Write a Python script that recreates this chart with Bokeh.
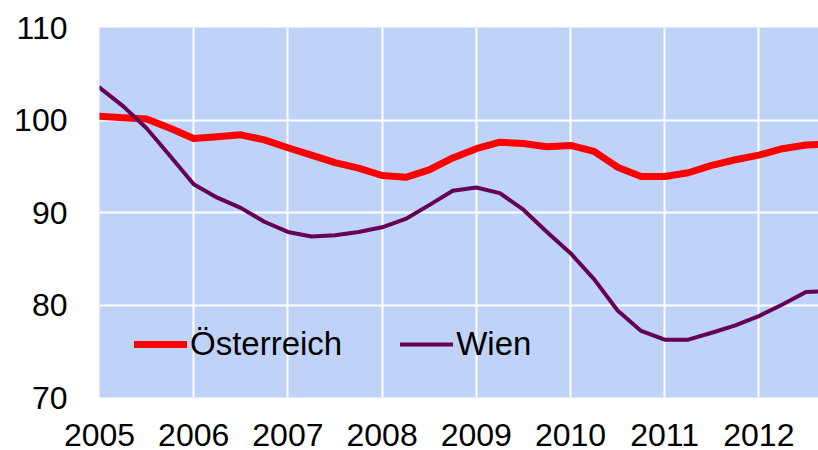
from bokeh.plotting import figure
from bokeh.models import FixedTicker, Legend, LegendItem, Range1d
from bokeh.embed import file_html
from bokeh.resources import INLINE

# Quarterly index values, starting 2005 Q1
start_year = 2005
quarters_per_year = 4
oesterreich = [100.4, 100.25, 100.1, 99.1, 98.0, 98.2, 98.4, 97.85, 97.0, 96.2,
               95.4, 94.8, 94.0, 93.8, 94.6, 95.9, 96.9, 97.6, 97.45, 97.1,
               97.25, 96.6, 94.9, 93.9, 93.9, 94.3, 95.1, 95.7, 96.2, 96.9,
               97.3, 97.4]
wien = [103.5, 101.5, 99.1, 96.1, 93.06, 91.6, 90.5, 89.0, 87.9, 87.4,
        87.55, 87.9, 88.4, 89.3, 90.8, 92.35, 92.7, 92.1, 90.3, 87.9,
        85.6, 82.8, 79.4, 77.2, 76.25, 76.25, 77.0, 77.8, 78.8, 80.05,
        81.4, 81.5]
years = [2005, 2006, 2007, 2008, 2009, 2010, 2011, 2012]
y_ticks = [70, 80, 90, 100, 110]
labels = ["Österreich", "Wien"]
colors = ["#FF0000", "#660055"]

x = [start_year + i / quarters_per_year for i in range(len(oesterreich))]

FONT = "Liberation Sans"

p = figure(frame_width=719, frame_height=370, output_backend="svg",
           toolbar_location=None,
           x_range=Range1d(2005, 2012.633), y_range=Range1d(70, 110),
           min_border_left=99, min_border_right=0, min_border_top=27,
           min_border_bottom=10)
p.background_fill_color = "#BFD3F8"
p.border_fill_color = "white"
p.outline_line_color = None

r1 = p.line(x, oesterreich, line_color=colors[0], line_width=7, line_join="round", line_cap="round")
r2 = p.line(x, wien, line_color=colors[1], line_width=4, line_join="round", line_cap="round")

p.xaxis.ticker = FixedTicker(ticks=years)
p.yaxis.ticker = FixedTicker(ticks=y_ticks)
for ax in (p.xaxis, p.yaxis):
    ax.axis_line_color = None
    ax.major_tick_line_color = None
    ax.minor_tick_line_color = None
    ax.major_tick_in = 0
    ax.major_tick_out = 0
    ax.major_label_text_font = FONT
    ax.major_label_text_font_size = "32px"
    ax.major_label_text_color = "black"
p.yaxis.major_label_standoff = 32
p.xaxis.major_label_standoff = 26

p.xgrid.grid_line_color = "white"
p.ygrid.grid_line_color = "white"
p.xgrid.grid_line_width = 2
p.ygrid.grid_line_width = 2
p.xgrid.grid_line_alpha = 1
p.ygrid.grid_line_alpha = 1

legend = Legend(items=[LegendItem(label=labels[0], renderers=[r1]),
                       LegendItem(label=labels[1], renderers=[r2])],
                location=(35, 34), orientation="horizontal",
                background_fill_alpha=0, border_line_alpha=0,
                label_text_font=FONT, label_text_font_size="33px",
                label_text_color="black",
                glyph_width=53, glyph_height=30, label_standoff=3, spacing=58,
                padding=0, margin=0)
p.add_layout(legend, "center")

open("out.html", "w").write(file_html(p, INLINE))
